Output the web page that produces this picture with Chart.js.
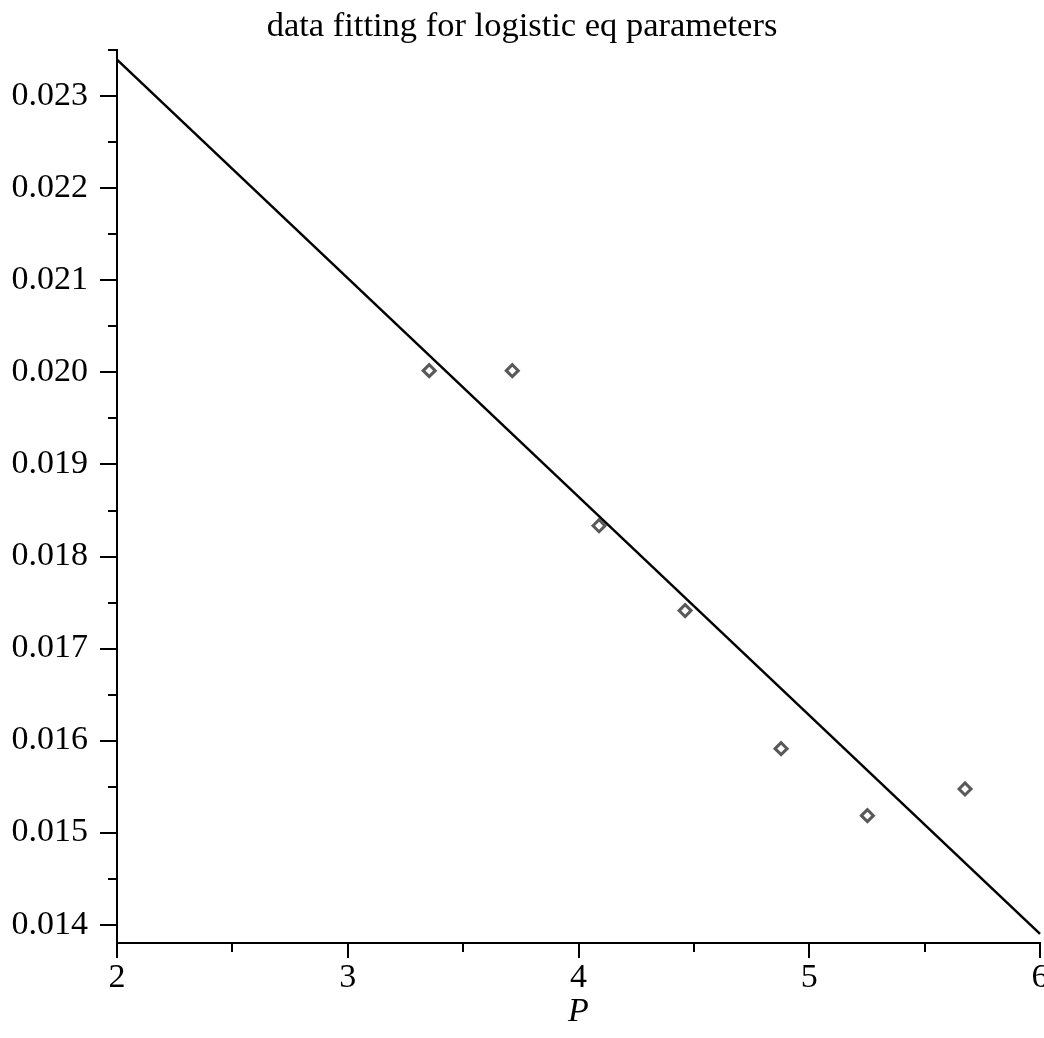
<!DOCTYPE html>
<html>
<head>
<meta charset="utf-8">
<script src="https://cdn.jsdelivr.net/npm/chart.js@4/dist/chart.umd.min.js"></script>
<style>
  html, body { margin: 0; padding: 0; background: #fff; }
  #wrap { width: 1044px; height: 1038px; }
</style>
</head>
<body>
<div id="wrap"><canvas id="c" width="1044" height="1038"></canvas></div>
<script>
// ---- data ----
const pointsX = [3.353, 3.713, 4.089, 4.462, 4.878, 5.252, 5.675];
const pointsY = [0.02002, 0.02002, 0.018335, 0.017412, 0.015912, 0.015184, 0.015474];
const fitLineX = [2, 6];
const fitLineY = [0.02340, 0.01390];
const yMajorTicks = [0.014, 0.015, 0.016, 0.017, 0.018, 0.019, 0.020, 0.021, 0.022, 0.023];
const yMinorTicks = [0.0145, 0.0155, 0.0165, 0.0175, 0.0185, 0.0195, 0.0205, 0.0215, 0.0225, 0.0235];
const xMajorTicks = [2, 3, 4, 5, 6];
const xMinorTicks = [2.5, 3.5, 4.5, 5.5];
const chartTitle = 'data fitting for logistic eq parameters';
const xAxisTitle = 'P';

const FONT = "'Liberation Serif', 'DejaVu Serif', serif";

const minorTickPlugin = {
  id: 'minorTicks',
  afterDraw(chart) {
    const ctx = chart.ctx;
    const xs = chart.scales.x, ys = chart.scales.y;
    ctx.save();
    ctx.strokeStyle = '#000';
    ctx.lineWidth = 2;
    ctx.beginPath();
    yMinorTicks.forEach(v => {
      const py = Math.round(ys.getPixelForValue(v));
      ctx.moveTo(chart.chartArea.left - 9, py);
      ctx.lineTo(chart.chartArea.left, py);
    });
    xMinorTicks.forEach(v => {
      const px = Math.round(xs.getPixelForValue(v));
      ctx.moveTo(px, chart.chartArea.bottom);
      ctx.lineTo(px, chart.chartArea.bottom + 9);
    });
    ctx.stroke();
    ctx.restore();
  }
};

new Chart(document.getElementById('c'), {
  type: 'scatter',
  data: {
    datasets: [
      {
        label: 'fit',
        type: 'line',
        data: fitLineX.map((x, i) => ({ x: x, y: fitLineY[i] })),
        borderColor: '#000',
        borderWidth: 2.5,
        pointRadius: 0,
        fill: false,
        clip: false,
        order: 2
      },
      {
        label: 'data',
        data: pointsX.map((x, i) => ({ x: x, y: pointsY[i] })),
        pointStyle: 'rectRot',
        pointRadius: 6,
        pointBorderWidth: 3,
        pointBorderColor: 'rgba(60,60,60,0.85)',
        pointBackgroundColor: '#fff',
        order: 1
      }
    ]
  },
  options: {
    responsive: false,
    animation: false,
    devicePixelRatio: 1,
    layout: { padding: 0, autoPadding: false },
    plugins: {
      legend: { display: false },
      tooltip: { enabled: false },
      title: {
        display: true,
        text: chartTitle,
        color: '#000',
        font: { family: FONT, size: 34.5, weight: 'normal' },
        padding: { top: 6, bottom: 3 }
      }
    },
    scales: {
      x: {
        type: 'linear',
        min: 2, max: 6,
        afterBuildTicks: s => { s.ticks = xMajorTicks.map(v => ({ value: v })); },
        afterFit: s => { s.height = 95; s.paddingLeft = 0; s.paddingRight = 4; },
        ticks: {
          color: '#000',
          font: { family: FONT, size: 34 },
          padding: 0,
          maxRotation: 0,
          callback: v => String(v)
        },
        grid: { drawOnChartArea: false, drawTicks: true, tickLength: 15, color: '#000', lineWidth: 2 },
        border: { display: true, color: '#000', width: 2 },
        title: {
          display: true,
          text: xAxisTitle,
          color: '#000',
          font: { family: FONT, size: 34, style: 'italic' },
          padding: { top: 0, bottom: 6 }
        }
      },
      y: {
        type: 'linear',
        min: 0.0138, max: 0.0235,
        afterBuildTicks: s => { s.ticks = yMajorTicks.map(v => ({ value: v })); },
        afterFit: s => { s.width = 117; s.paddingTop = 0; s.paddingBottom = 0; },
        ticks: {
          color: '#000',
          font: { family: FONT, size: 34 },
          padding: 12,
          callback: v => Number(v).toFixed(3)
        },
        grid: { drawOnChartArea: false, drawTicks: true, tickLength: 17, color: '#000', lineWidth: 2 },
        border: { display: true, color: '#000', width: 2 }
      }
    }
  },
  plugins: [minorTickPlugin]
});
</script>
</body>
</html>
